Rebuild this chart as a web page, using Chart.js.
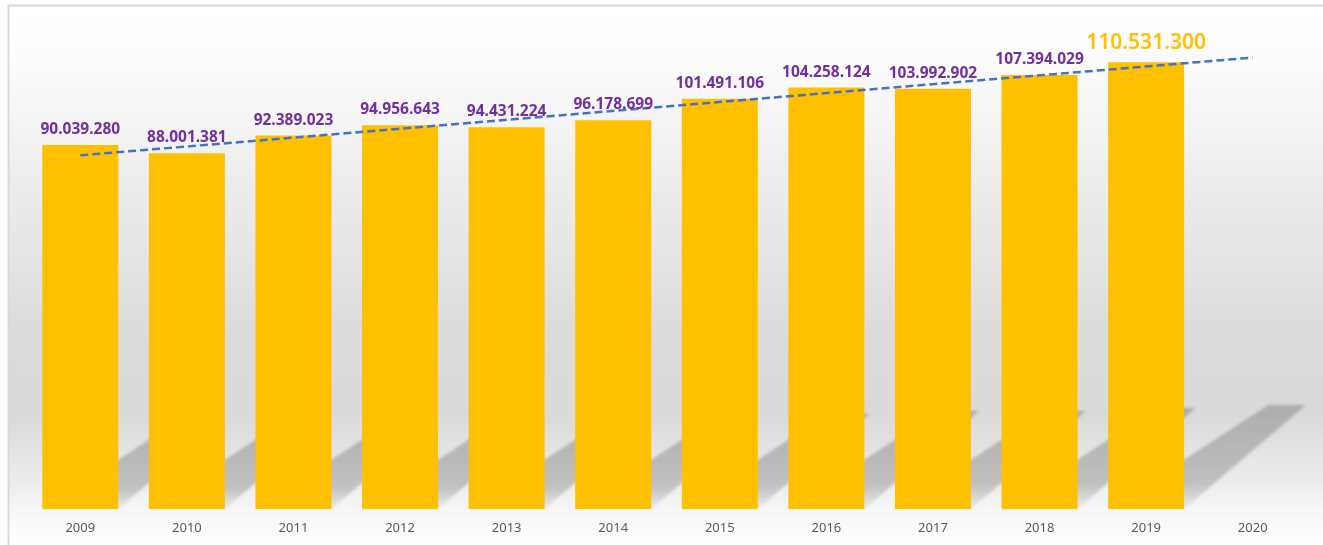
<!DOCTYPE html>
<html>
<head>
<meta charset="utf-8">
<script src="https://cdn.jsdelivr.net/npm/chart.js@4.4.1/dist/chart.umd.min.js"></script>
<style>
  html, body { margin: 0; padding: 0; background: #fff; }
  #wrap { width: 1323px; height: 545px; position: relative; }
</style>
</head>
<body>
<div id="wrap"><canvas id="barChart"></canvas></div>
<script>
const years = ['2009', '2010', '2011', '2012', '2013', '2014', '2015', '2016', '2017', '2018', '2019', '2020'];
const population = [90039280, 88001381, 92389023, 94956643, 94431224, 96178699, 101491106, 104258124, 103992902, 107394029, 110531300, null];
// trend line ends (2009 and 2020)
const trendEnds = [87500000, 111700000];
const highlightYear = '2019';

const trendValues = years.map((y, i) => {
  if (i === 0) return trendEnds[0];
  if (i === years.length - 1) return trendEnds[1];
  return null;
});

function fmt(n) {
  return String(n).replace(/\B(?=(\d{3})+(?!\d))/g, '.');
}

const backgroundPlugin = {
  id: 'bgPanel',
  beforeDraw(chart) {
    const { ctx, width, height } = chart;
    ctx.save();
    const g = ctx.createLinearGradient(0, 5, 0, height);
    g.addColorStop(0, '#ffffff');
    g.addColorStop(0.1, '#fcfcfc');
    g.addColorStop(0.36, '#ebebeb');
    g.addColorStop(0.6, '#dcdcdc');
    g.addColorStop(0.76, '#dadada');
    g.addColorStop(0.88, '#ececec');
    g.addColorStop(0.95, '#f9f9f9');
    g.addColorStop(1, '#ffffff');
    ctx.fillStyle = g;
    ctx.fillRect(9, 6, width, height);
    ctx.strokeStyle = '#d9d9d9';
    ctx.lineWidth = 2;
    ctx.beginPath();
    ctx.moveTo(8.5, height + 5);
    ctx.lineTo(8.5, 5.5);
    ctx.lineTo(width + 5, 5.5);
    ctx.stroke();
    ctx.restore();
  }
};

const shadowPlugin = {
  id: 'barShadows',
  beforeDatasetsDraw(chart) {
    const ctx = chart.ctx;
    const meta = chart.getDatasetMeta(0);
    ctx.save();
    ctx.filter = 'blur(1.5px)';
    meta.data.forEach((bar, i) => {
      if (population[i] == null) return;
      const { x, y, base, width } = bar.getProps(['x', 'y', 'base', 'width'], true);
      const h = (base - y) * 0.233;
      const l = x - width / 2;
      const r = x + width / 2;
      const g = ctx.createLinearGradient(0, base - h, 0, base);
      g.addColorStop(0, 'rgba(0,0,0,0.2)');
      g.addColorStop(0.75, 'rgba(0,0,0,0.19)');
      g.addColorStop(1, 'rgba(0,0,0,0.04)');
      ctx.fillStyle = g;
      ctx.beginPath();
      ctx.moveTo(l, base);
      ctx.lineTo(r, base);
      ctx.lineTo(r + h * 1.17, base - h);
      ctx.lineTo(l + h * 1.54, base - h);
      ctx.closePath();
      ctx.fill();
    });
    ctx.restore();
  }
};

const labelPlugin = {
  id: 'valueLabels',
  afterDatasetsDraw(chart) {
    const ctx = chart.ctx;
    const meta = chart.getDatasetMeta(0);
    ctx.save();
    ctx.textAlign = 'center';
    ctx.textBaseline = 'alphabetic';
    meta.data.forEach((bar, i) => {
      if (population[i] == null) return;
      const { x, y } = bar.getProps(['x', 'y'], true);
      if (years[i] === highlightYear) {
        ctx.font = '600 21px "Noto Sans"';
        ctx.fillStyle = '#FFC000';
        ctx.fillText(fmt(population[i]), x, y - 13);
      } else {
        ctx.font = 'bold 15.5px "Noto Sans"';
        ctx.fillStyle = '#7030A0';
        ctx.fillText(fmt(population[i]), x, y - 11);
      }
    });
    ctx.restore();
  }
};

const barChart = new Chart(document.getElementById('barChart'), {
  type: 'bar',
  data: {
    labels: years,
    datasets: [
      {
        type: 'bar',
        data: population,
        backgroundColor: '#FFC000',
        borderWidth: 0,
        barPercentage: 0.713,
        categoryPercentage: 1,
        order: 1
      },
      {
        type: 'line',
        data: trendValues,
        spanGaps: true,
        borderColor: '#4472C4',
        borderWidth: 2.5,
        borderDash: [8, 4],
        pointRadius: 0,
        tension: 0,
        fill: false,
        order: 0
      }
    ]
  },
  options: {
    responsive: true,
    maintainAspectRatio: false,
    animation: false,
    layout: {
      padding: { left: 27, right: 17, top: 24, bottom: 0 }
    },
    plugins: {
      legend: { display: false },
      tooltip: { enabled: false }
    },
    scales: {
      x: {
        grid: { display: false, drawTicks: false },
        border: { display: false },
        ticks: {
          color: '#595959',
          padding: 11,
          font: { family: '"Noto Sans"', size: 13 }
        },
        afterFit(scale) { scale.height = 36; }
      },
      y: {
        display: false,
        min: 0,
        max: 120000000
      }
    }
  },
  plugins: [backgroundPlugin, shadowPlugin, labelPlugin]
});
</script>
</body>
</html>
